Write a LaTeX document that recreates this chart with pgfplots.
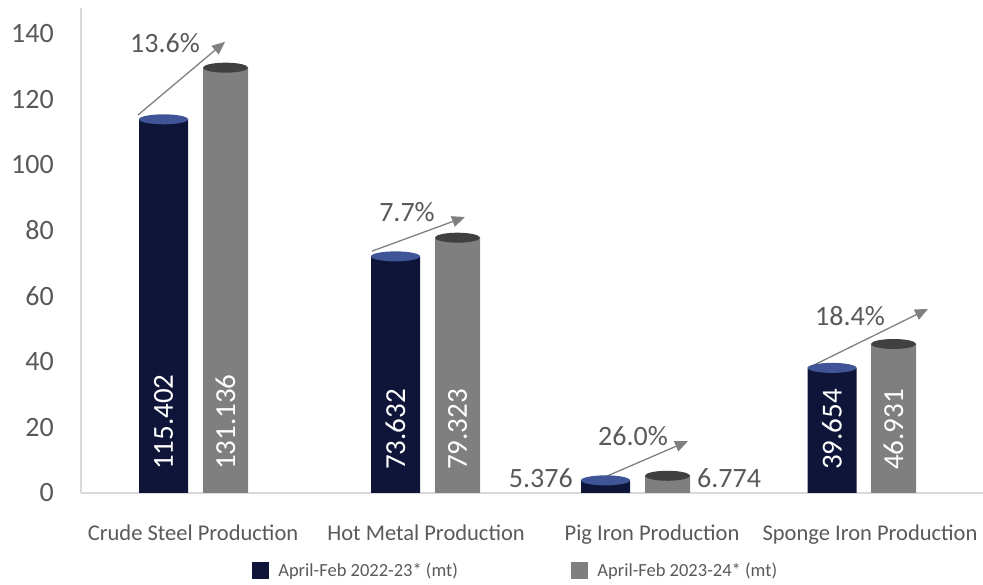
\documentclass[border=0pt]{standalone}
\usepackage{pgfplots}
\pgfplotsset{compat=1.18}
\usepackage{pgfplotstable}
\usepackage{fontspec}
\setmainfont{Carlito}
\usetikzlibrary{arrows.meta}
\definecolor{navy}{HTML}{0F1538}
\definecolor{navytop}{HTML}{3F5598}
\definecolor{barg}{HTML}{7F7F7F}
\definecolor{bargtop}{HTML}{404040}
\definecolor{txt}{HTML}{595959}
\definecolor{axl}{HTML}{D9D9D9}
\definecolor{arr}{HTML}{808080}
\pgfdeclareplotmark{cyltopA}{\pgfpathellipse{\pgfpointorigin}{\pgfpoint{24.5pt}{0pt}}{\pgfpoint{0pt}{5pt}}\pgfusepathqfill}
\pgfdeclareplotmark{cyltopB}{\pgfpathellipse{\pgfpointorigin}{\pgfpoint{22.5pt}{0pt}}{\pgfpoint{0pt}{5pt}}\pgfusepathqfill}
\pgfplotstableread{
x y
163.5 115.402
395.5 73.632
605.5 5.376
832 39.654
}\dataA
\pgfplotstableread{
x y
225.5 131.136
457.5 79.323
667.5 6.774
893.5 46.931
}\dataB
\begin{document}
\begin{tikzpicture}
\begin{axis}[
  scale only axis, width=902pt, height=485pt,
  xmin=81, xmax=983, ymin=0, ymax=147.8,
  axis x line=bottom, axis y line=left,
  axis line style={draw=axl, line width=1.5pt, -},
  ytick={0,20,...,140},
  xtick={193,426,652,870},
  xticklabels={Crude Steel Production, Hot Metal Production, Pig Iron Production, Sponge Iron Production},
  major tick length=0pt,
  tick label style={text=txt},
  /pgf/number format/assume math mode=true,
  yticklabel style={font=\fontsize{28}{32}\selectfont, anchor=east, inner sep=0pt, xshift=-27pt},
  xticklabel style={font=\fontsize{22.5}{26}\selectfont, anchor=north, inner sep=0pt, yshift=-32pt},
  legend style={at={(0.4817,-0.16)}, anchor=center, draw=none, fill=none,
    font=\fontsize{18.5}{22}\selectfont, text=txt,
    /tikz/every even column/.append style={column sep=111pt}},
  legend columns=2, legend cell align=left,
]
\addplot[ybar, bar width=49, bar shift=0pt, fill=navy, draw=none, forget plot, yshift=-5pt] table {\dataA};
\addplot[only marks, mark=cyltopA, mark options={fill=navytop, draw=none}, forget plot, yshift=-5pt] table {\dataA};
\addplot[ybar, bar width=45, bar shift=0pt, fill=barg, draw=none, forget plot, yshift=-5pt] table {\dataB};
\addplot[only marks, mark=cyltopB, mark options={fill=bargtop, draw=none}, forget plot, yshift=-5pt] table {\dataB};
\addlegendimage{legend image code/.code={\fill[navy] (0pt,-8pt) rectangle (16pt,8pt); \path (24pt,0pt);}}
\addlegendentry{April-Feb 2022-23* (mt)}
\addlegendimage{legend image code/.code={\fill[barg] (0pt,-8pt) rectangle (16pt,8pt); \path (24pt,0pt);}}
\addlegendentry{April-Feb 2023-24* (mt)}
% growth arrows
\draw[arr, line width=1.3pt, -{Triangle[length=13pt,width=11pt]}] (axis cs:138,115.2) -- (axis cs:225,137.5);
\draw[arr, line width=1.3pt, -{Triangle[length=13pt,width=11pt]}] (axis cs:372,73.7) -- (axis cs:465,84.1);
\draw[arr, line width=1.3pt, -{Triangle[length=13pt,width=11pt]}] (axis cs:605,4.9) -- (axis cs:688,15.8);
\draw[arr, line width=1.3pt, -{Triangle[length=13pt,width=11pt]}] (axis cs:808,38.1) -- (axis cs:928,56.1);
\begin{scope}[every node/.style={font=\fontsize{28}{32}\selectfont, text=txt, inner sep=0pt}]
\node at (axis cs:165,137.2) {13.6\%};
\node at (axis cs:407,85.5) {7.7\%};
\node at (axis cs:633,17.4) {26.0\%};
\node at (axis cs:850,53.9) {18.4\%};
\node[anchor=east] at (axis cs:573,4.6) {5.376};
\node[anchor=west] at (axis cs:697,4.6) {6.774};
\end{scope}
\begin{scope}[every node/.style={font=\fontsize{29}{32}\selectfont, text=white, inner sep=0pt, rotate=90, anchor=west}]
\node at (axis cs:163.5,7.0) {115.402};
\node at (axis cs:225.5,7.0) {131.136};
\node at (axis cs:395.5,7.0) {73.632};
\node at (axis cs:457.5,7.0) {79.323};
\node at (axis cs:832,7.0) {39.654};
\node at (axis cs:893.5,7.0) {46.931};
\end{scope}
\end{axis}
\pgfresetboundingbox
\useasboundingbox (-81pt,-92pt) rectangle (902pt,493pt);
\end{tikzpicture}
\end{document}
